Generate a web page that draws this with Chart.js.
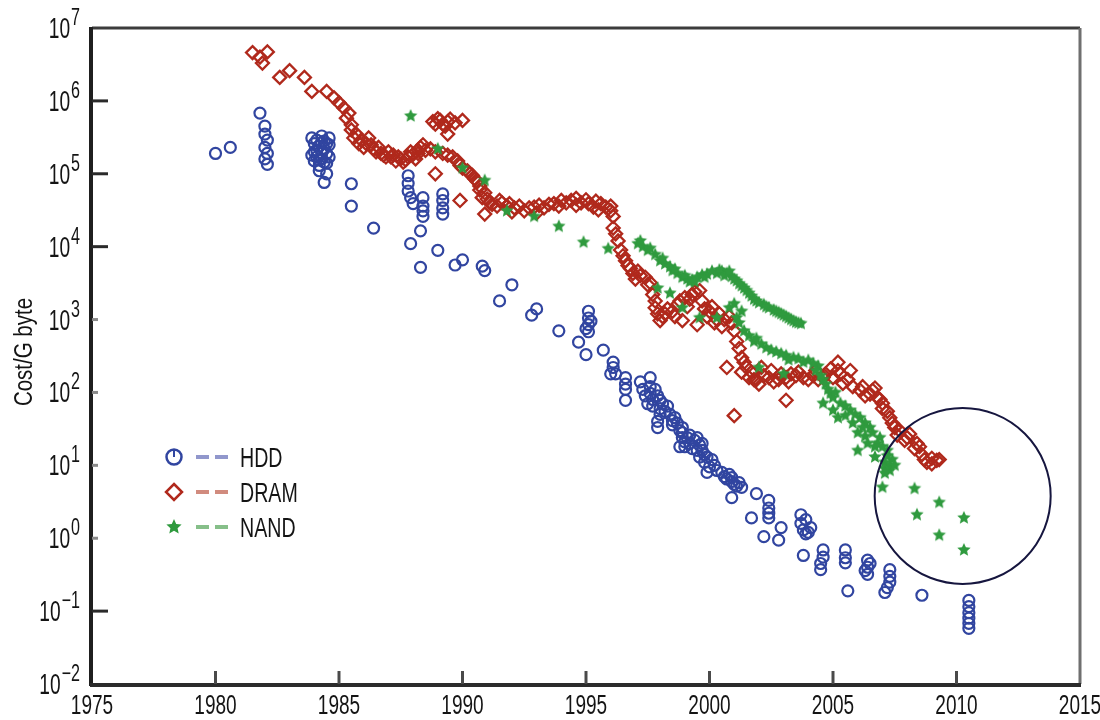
<!DOCTYPE html>
<html>
<head>
<meta charset="utf-8">
<script src="https://cdn.jsdelivr.net/npm/chart.js@4.4.1/dist/chart.umd.min.js"></script>
<style>
  html, body { margin: 0; background: #fff; }
  #wrap { width: 1100px; height: 720px; }
</style>
</head>
<body>
<div id="wrap"><canvas id="myChart"></canvas></div>
<script>
'use strict'

// tick labels
const xTicks = [1975, 1980, 1985, 1990, 1995, 2000, 2005, 2010, 2015]
const yExponents = [7, 6, 5, 4, 3, 2, 1, 0, -1, -2]
const seriesNames = ['HDD', 'DRAM', 'NAND']
const yTitle = 'Cost/G byte'

// HDD ($ per GB)
const hddYear = [1980.0, 1980.6, 1981.8, 1982.0, 1982.0, 1982.1, 1982.0, 1982.1, 1982.0, 1982.1,
  1983.9, 1984.0, 1984.1, 1983.9, 1984.0, 1984.2, 1984.3, 1984.4, 1984.4, 1984.5, 1984.3, 1984.5, 1984.6, 1984.6, 1984.6, 1984.2, 1984.5, 1984.4,
  1984.1, 1984.2, 1984.3, 1984.1, 1984.4, 1984.2, 1984.5, 1984.0, 1984.3,
  1985.5, 1985.5, 1986.4,
  1987.8, 1987.8, 1987.8, 1987.9, 1988.0,
  1988.4, 1988.4, 1988.4, 1988.4, 1988.3,
  1989.2, 1989.2, 1989.2, 1989.2,
  1987.9, 1989.0, 1988.3, 1989.7, 1990.0,
  1990.8, 1990.9, 1992.0, 1991.5, 1993.0, 1992.8, 1993.9,
  1995.1, 1995.1, 1995.1, 1995.1, 1995.2, 1995.0,
  1994.7, 1995.0, 1995.7,
  1996.1, 1996.1, 1996.2, 1996.0,
  1996.6, 1996.6, 1996.6, 1996.6,
  1997.6, 1997.6, 1997.6, 1997.7, 1997.7,
  1997.2, 1997.3, 1997.4, 1997.5, 1997.8, 1997.9, 1998.1, 1998.2, 1998.3, 1998.4, 1998.5, 1998.6, 1998.7, 1998.8,
  1998.0, 1998.0, 1998.0, 1997.9, 1997.9, 1998.5,
  1998.9, 1998.9, 1998.9, 1999.0, 1999.0, 1998.8,
  1999.1, 1999.2, 1999.3, 1999.5, 1999.5, 1999.7, 1999.9, 2000.1, 2000.2, 2000.3, 2000.5, 2000.6, 2000.7, 2000.8, 2001.2, 2001.3,
  1999.2, 1999.4, 1999.6, 1999.7, 1999.8, 1999.6, 1999.8, 2000.0, 1999.9,
  2000.9, 2000.9, 2001.0, 2001.1, 2000.9,
  2001.9, 2001.7,
  2002.4, 2002.4, 2002.4, 2002.4, 2002.9, 2002.2, 2002.8,
  2003.7, 2003.7, 2003.8, 2004.0, 2003.9, 2004.1, 2003.9, 2003.8,
  2004.6, 2004.6, 2004.5, 2004.5,
  2005.5, 2005.5, 2005.5,
  2006.4, 2006.4, 2006.4, 2006.5, 2006.3, 2005.6,
  2007.3, 2007.3, 2007.3, 2007.2, 2007.1,
  2008.6,
  2010.5, 2010.5, 2010.5, 2010.5, 2010.5, 2010.5]
const hddCost = [1.9e5, 2.3e5, 6.8e5, 4.5e5, 3.5e5, 2.9e5, 2.3e5, 1.9e5, 1.6e5, 1.35e5,
  3.1e5, 2.6e5, 2.1e5, 1.8e5, 1.5e5, 1.3e5, 3.3e5, 2.8e5, 2.2e5, 1.9e5, 1.6e5, 1.4e5, 3.1e5, 2.5e5, 1.7e5, 1.1e5, 1.0e5, 7.6e4,
  2.9e5, 2.4e5, 1.9e5, 1.7e5, 1.45e5, 1.55e5, 2.6e5, 2.0e5, 2.7e5,
  7.3e4, 3.6e4, 1.8e4,
  9.4e4, 7.4e4, 5.8e4, 4.7e4, 3.9e4,
  4.7e4, 3.6e4, 3.1e4, 2.6e4, 1.65e4,
  5.3e4, 4.3e4, 3.4e4, 2.8e4,
  1.1e4, 8.9e3, 5.2e3, 5.6e3, 6.6e3,
  5.4e3, 4.7e3, 3.0e3, 1.8e3, 1.4e3, 1.15e3, 7.0e2,
  1.3e3, 1.05e3, 8.5e2, 6.8e2, 9.5e2, 7.5e2,
  4.9e2, 3.3e2, 3.8e2,
  2.6e2, 2.2e2, 1.8e2, 1.8e2,
  1.6e2, 1.3e2, 1.1e2, 7.8e1,
  1.6e2, 1.2e2, 9.7e1, 8.0e1, 6.5e1,
  1.4e2, 1.1e2, 9.0e1, 7.0e1, 1.1e2, 9.0e1, 7.0e1, 5.5e1, 6.5e1, 5.0e1, 3.6e1, 4.5e1, 3.8e1, 3.0e1,
  7.8e1, 6.0e1, 5.0e1, 4.0e1, 3.3e1, 4.1e1,
  3.3e1, 2.8e1, 2.4e1, 2.1e1, 1.8e1, 1.8e1,
  2.4e1, 2.0e1, 1.7e1, 1.6e1, 2.4e1, 2.0e1, 1.3e1, 1.2e1, 1.0e1, 8.5, 8.0, 7.0, 6.5, 7.5, 5.8, 5.0,
  2.6e1, 2.2e1, 1.9e1, 1.6e1, 1.4e1, 1.3e1, 1.1e1, 9.5, 8.0,
  6.8, 6.0, 5.5, 5.2, 3.6,
  4.1, 1.9,
  3.3, 2.6, 2.2, 1.9, 1.4, 1.05, 0.94,
  2.1, 1.6, 1.3, 1.2, 1.8, 1.4, 1.15, 0.58,
  0.69, 0.55, 0.45, 0.37,
  0.69, 0.54, 0.46,
  0.50, 0.40, 0.32, 0.45, 0.36, 0.19,
  0.37, 0.30, 0.25, 0.21, 0.18,
  0.165,
  0.14, 0.115, 0.095, 0.08, 0.068, 0.058]

// DRAM
const dramYear = [1981.5, 1981.8, 1982.1, 1981.9, 1982.6, 1983.0, 1983.6, 1983.9, 1984.5, 1984.8, 1985.0, 1985.2, 1985.3, 1985.4, 1985.5, 1985.5, 1985.6, 1985.7, 1985.8, 1985.9,
  1986.0, 1986.1, 1986.2, 1986.3, 1986.4, 1986.5, 1986.6, 1986.7, 1986.8, 1986.9, 1987.0, 1987.1, 1987.2, 1987.3, 1987.4, 1987.5, 1987.6, 1987.7, 1987.8, 1987.9,
  1988.0, 1988.1, 1988.2, 1988.2, 1988.3, 1988.4, 1988.5,
  1988.8, 1988.9, 1989.0, 1989.1, 1989.2, 1989.3, 1989.4, 1989.5, 1989.7, 1990.0, 1989.4,
  1988.7, 1988.9, 1989.2, 1989.4, 1989.6, 1989.8, 1989.9, 1990.0, 1990.2, 1990.3, 1990.4, 1990.5, 1990.6, 1990.7, 1990.7, 1990.8, 1990.9, 1991.0, 1991.1,
  1988.9, 1989.9,
  1990.9, 1991.2, 1991.4, 1991.5, 1991.6, 1991.8, 1991.9, 1992.0, 1992.1, 1992.3, 1992.5, 1992.7, 1992.9, 1993.0, 1993.1, 1993.3, 1993.5, 1993.7, 1993.9, 1994.0, 1994.2, 1994.4, 1994.6, 1994.6, 1994.8, 1995.0, 1995.1, 1995.3, 1995.4, 1995.5, 1995.6, 1995.8, 1996.0, 1996.0, 1996.1,
  1996.1, 1996.2, 1996.3, 1996.4, 1996.5, 1996.6, 1996.7, 1996.8, 1996.9, 1997.0, 1997.1, 1997.2, 1997.4, 1997.5, 1997.6, 1997.7, 1997.8, 1997.8, 1997.9, 1998.0, 1998.1, 1998.2, 1998.3, 1998.5, 1998.6, 1998.7, 1998.8, 1999.0, 1999.1, 1999.2, 1999.3, 1999.4, 1999.6, 1999.7, 1999.8, 1999.9, 2000.0, 2000.1, 2000.2, 2000.3, 2000.4, 2000.5, 2000.6, 2000.8, 2000.9, 1998.9, 1999.5,
  2001.0, 2001.1, 2001.2, 2001.3, 2001.3, 2001.4, 2001.5, 2000.7, 2001.6, 2001.7, 2001.8, 2001.9, 2002.0, 2002.1, 2002.2, 2002.4, 2002.5, 2002.6, 2002.8, 2002.9, 2003.1, 2003.2, 2003.3, 2003.5, 2003.6, 2003.8, 2004.0, 2004.2, 2004.3, 2004.4, 2004.6, 2004.7, 2004.9, 2005.0, 2005.2, 2005.2, 2005.3, 2005.4, 2005.6, 2005.7, 2005.8,
  2006.1, 2006.2, 2006.3, 2006.5, 2006.6, 2006.7, 2006.8, 2006.9, 2007.0, 2007.0, 2007.2, 2007.3, 2007.4, 2007.5, 2007.6, 2007.7, 2007.9, 2008.0, 2008.1, 2008.3, 2008.4, 2008.5, 2008.6, 2008.7, 2008.8, 2009.0, 2009.0, 2009.2, 2009.3,
  2001.0, 2003.1]
const dramCost = [4.6e6, 4.0e6, 4.7e6, 3.3e6, 2.1e6, 2.6e6, 2.1e6, 1.35e6, 1.35e6, 1.1e6, 9.4e5, 8.0e5, 5.8e5, 6.8e5, 4.7e5, 4.0e5, 3.1e5, 3.5e5, 2.6e5, 2.9e5,
  2.3e5, 2.6e5, 3.1e5, 2.5e5, 2.2e5, 2.0e5, 2.3e5, 1.9e5, 1.8e5, 1.7e5, 2.0e5, 1.7e5, 1.8e5, 1.5e5, 1.7e5, 1.6e5, 1.45e5, 1.55e5, 1.7e5, 2.0e5,
  1.85e5, 1.6e5, 1.9e5, 2.1e5, 2.3e5, 2.5e5, 2.1e5,
  5.2e5, 4.8e5, 5.7e5, 5.4e5, 4.8e5, 4.5e5, 5.2e5, 5.6e5, 5.0e5, 5.4e5, 3.5e5,
  2.2e5, 2.0e5, 1.9e5, 1.8e5, 1.7e5, 1.5e5, 1.3e5, 1.2e5, 1.1e5, 1.0e5, 9.5e4, 8.5e4, 7.8e4, 6.8e4, 6.0e4, 4.7e4, 5.5e4, 4.5e4, 4.0e4,
  1.0e5, 4.3e4,
  2.8e4, 3.8e4, 3.6e4, 4.3e4, 4.0e4, 3.6e4, 3.9e4, 3.0e4, 3.4e4, 3.6e4, 3.1e4, 3.4e4, 3.5e4, 2.9e4, 3.7e4, 3.4e4, 3.8e4, 3.9e4, 3.6e4, 4.3e4, 4.0e4, 4.3e4, 4.6e4, 3.7e4, 4.0e4, 4.4e4, 3.9e4, 3.5e4, 4.2e4, 3.2e4, 3.9e4, 3.5e4, 3.6e4, 3.1e4, 2.6e4,
  1.8e4, 1.5e4, 1.2e4, 9.0e3, 7.5e3, 6.4e3, 5.5e3, 5.0e3, 4.3e3, 3.6e3, 4.6e3, 4.0e3, 3.8e3, 3.0e3, 3.2e3, 2.2e3, 1.8e3, 1.45e3, 1.2e3, 9.7e2, 1.1e3, 1.2e3, 1.4e3, 1.3e3, 1.1e3, 1.6e3, 1.8e3, 2.0e3, 1.5e3, 1.9e3, 2.2e3, 2.4e3, 2.5e3, 1.8e3, 1.4e3, 1.1e3, 1.3e3, 1.5e3, 9.0e2, 1.0e3, 1.2e3, 8.0e2, 1.0e3, 1.1e3, 9.0e2, 9.7e2, 8.5e2,
  7.0e2, 5.0e2, 4.0e2, 3.0e2, 1.9e2, 2.6e2, 2.2e2, 2.2e2, 1.6e2, 1.9e2, 1.5e2, 1.5e2, 1.3e2, 2.2e2, 1.7e2, 1.6e2, 2.0e2, 1.4e2, 1.5e2, 1.8e2, 1.6e2, 1.4e2, 1.8e2, 1.7e2, 1.9e2, 1.6e2, 1.5e2, 1.7e2, 2.0e2, 1.5e2, 1.6e2, 1.8e2, 2.1e2, 1.6e2, 2.0e2, 2.6e2, 1.8e2, 1.33e2, 1.5e2, 2.0e2, 1.2e2,
  1.07e2, 1.2e2, 9.0e1, 9.5e1, 1.07e2, 1.15e2, 8.5e1, 8.0e1, 7.1e1, 6.0e1, 5.5e1, 4.5e1, 3.8e1, 3.3e1, 2.6e1, 3.0e1, 2.2e1, 2.4e1, 2.7e1, 1.7e1, 2.0e1, 1.8e1, 1.4e1, 1.2e1, 1.1e1, 1.05e1, 1.25e1, 1.17e1, 1.2e1,
  4.8e1, 7.8e1]

// NAND
const nandYear = [1987.9, 1989.0, 1990.0, 1990.9, 1991.8, 1992.9, 1993.9, 1994.9, 1995.9,
  1997.1, 1997.3, 1997.5, 1997.8, 1998.0, 1998.2, 1998.5, 1998.7, 1998.9, 1999.1, 1999.3, 1999.5, 1999.7, 1999.9, 2000.3, 2000.5, 2000.7, 2000.9, 2001.1, 2001.3, 2001.5, 2001.7, 2001.9, 2002.2, 2002.4, 2002.7, 2002.9, 2003.1, 2003.3, 2003.5, 2003.7,
  1997.2, 1997.6, 1998.1, 1998.4, 1998.6, 1999.0, 1999.2, 1999.4, 1999.8, 2000.1, 2000.4, 2000.6, 2000.8, 2001.0, 2001.2, 2001.4, 2001.6, 2001.8, 2002.0, 2002.3, 2002.6, 2002.8, 2003.0, 2003.2, 2003.4, 2003.6,
  1997.9, 1998.4, 1998.9, 1999.6, 2000.3, 2000.8, 2001.0,
  2001.1, 2001.4, 2001.8, 2002.3, 2002.9, 2003.4, 2004.0, 2004.4, 2004.6, 2004.9, 2005.3, 2005.7, 2006.1, 2006.5, 2006.9, 2007.2, 2007.4, 2007.3,
  2001.2, 2001.3, 2001.6, 2001.9, 2002.1, 2002.5, 2002.7, 2003.1, 2003.2, 2003.6, 2003.8, 2004.2, 2004.3, 2004.5, 2004.7, 2004.8, 2005.0, 2005.1, 2005.5, 2005.5, 2005.9, 2005.8, 2006.0, 2006.3, 2006.3, 2006.6, 2006.7, 2006.8, 2007.0, 2007.1, 2007.2, 2007.3, 2007.5, 2007.1,
  2002.0, 2003.0, 2004.6, 2005.0, 2005.2, 2006.2, 2006.4, 2006.7, 2007.1, 2006.0,
  2007.0, 2008.3, 2009.3, 2008.4, 2010.3, 2009.3, 2010.3]
const nandCost = [6.2e5, 2.2e5, 1.2e5, 8.1e4, 3.1e4, 2.6e4, 1.9e4, 1.15e4, 9.4e3,
  1.1e4, 1.0e4, 8.9e3, 7.8e3, 6.4e3, 5.8e3, 4.7e3, 4.3e3, 3.8e3, 3.6e3, 3.5e3, 3.8e3, 4.1e3, 4.2e3, 4.3e3, 4.6e3, 4.3e3, 3.9e3, 3.4e3, 2.9e3, 2.5e3, 2.1e3, 1.8e3, 1.6e3, 1.45e3, 1.3e3, 1.2e3, 1.1e3, 1.0e3, 9.2e2, 8.8e2,
  1.2e4, 9.5e3, 6.9e3, 5.3e3, 4.9e3, 4.0e3, 3.3e3, 3.3e3, 3.8e3, 4.6e3, 4.8e3, 4.0e3, 4.6e3, 3.6e3, 3.1e3, 2.7e3, 2.3e3, 1.9e3, 1.7e3, 1.5e3, 1.35e3, 1.25e3, 1.15e3, 1.05e3, 9.6e2, 9.0e2,
  2.7e3, 2.3e3, 1.45e3, 1.06e3, 1.06e3, 1.45e3, 1.65e3,
  1.06e3, 7.0e2, 5.0e2, 4.1e2, 3.4e2, 3.0e2, 2.75e2, 2.3e2, 1.5e2, 9.7e1, 7.1e1, 5.7e1, 4.5e1, 3.3e1, 2.4e1, 1.6e1, 1.2e1, 8.5,
  9.0e2, 1.3e3, 6.0e2, 5.5e2, 4.6e2, 3.8e2, 3.6e2, 3.2e2, 2.8e2, 2.9e2, 2.6e2, 2.5e2, 2.0e2, 1.7e2, 1.3e2, 1.1e2, 8.5e1, 1.0e2, 6.5e1, 4.8e1, 5.0e1, 3.8e1, 2.8e1, 3.8e1, 2.5e1, 2.8e1, 1.8e1, 2.0e1, 1.8e1, 1.1e1, 1.35e1, 1.0e1, 1.0e1, 9.0,
  2.2e2, 1.8e2, 7.1e1, 5.7e1, 4.5e1, 3.3e1, 2.0e1, 1.3e1, 7.8, 1.6e1,
  5.0, 4.8, 3.1, 2.1, 1.9, 1.1, 0.69]

// the hand-drawn ring round the newest NAND points
const ringYear = 2010.25
const ringCost = 3.8

const hddColor = '#3145a0'
const dramColor = '#b0291c'
const nandColor = '#2f9a3e'
const FONT = '"Liberation Sans", Arial, sans-serif'

const toPoints = (xs, ys) => xs.map((x, i) => ({ x: x, y: ys[i] }))

function makeStar (r, color) {
  const c = document.createElement('canvas')
  const s = Math.ceil(r * 2 + 2)
  c.width = s
  c.height = s
  const g = c.getContext('2d')
  g.fillStyle = color
  g.beginPath()
  for (let i = 0; i < 10; i++) {
    const rr = i % 2 ? r * 0.47 : r
    const a = -Math.PI / 2 + i * Math.PI / 5
    g.lineTo(s / 2 + rr * Math.cos(a), s / 2 + rr * Math.sin(a))
  }
  g.closePath()
  g.fill()
  return c
}
const starImg = makeStar(7, nandColor)
const starLegend = makeStar(8, nandColor)

// narrow text, like the condensed face of the original
function narrowText (ctx, str, x, y, size, align, sx) {
  ctx.save()
  ctx.translate(x, y)
  ctx.scale(sx, 1)
  ctx.font = size + 'px ' + FONT
  ctx.textAlign = align
  ctx.fillText(str, 0, 0)
  ctx.restore()
}
function narrowWidth (ctx, str, size, sx) {
  ctx.save()
  ctx.font = size + 'px ' + FONT
  const w = ctx.measureText(str).width * sx
  ctx.restore()
  return w
}

const framePlugin = {
  id: 'frame',
  afterDraw (chart) {
    const ctx = chart.ctx
    const { left, right, top, bottom } = chart.chartArea
    const xs = chart.scales.x
    const ys = chart.scales.y

    ctx.save()
    // frame
    ctx.lineCap = 'butt'
    ctx.lineWidth = 3
    ctx.strokeStyle = '#3c3c3c'
    ctx.beginPath(); ctx.moveTo(left, top); ctx.lineTo(right, top); ctx.stroke()
    ctx.strokeStyle = '#6f6f6f'
    ctx.beginPath(); ctx.moveTo(right, top); ctx.lineTo(right, bottom); ctx.stroke()
    ctx.lineWidth = 4
    ctx.strokeStyle = '#1f1f1f'
    ctx.beginPath(); ctx.moveTo(left - 1, top - 1); ctx.lineTo(left - 1, bottom + 2); ctx.stroke()
    ctx.strokeStyle = '#2b2b2b'
    ctx.beginPath(); ctx.moveTo(left - 2, bottom + 1); ctx.lineTo(right + 1, bottom + 1); ctx.stroke()

    // inward ticks
    ctx.lineWidth = 3
    ctx.strokeStyle = '#4a4a4a'
    xTicks.forEach(v => {
      if (v === xTicks[0] || v === xTicks[xTicks.length - 1]) return
      const px = xs.getPixelForValue(v)
      ctx.beginPath(); ctx.moveTo(px, bottom); ctx.lineTo(px, bottom - 13); ctx.stroke()
    })
    yExponents.forEach(e => {
      if (e === 7 || e === -2) return
      const py = ys.getPixelForValue(Math.pow(10, e))
      const len = (e >= 4 || e === -1) ? 16 : 6
      ctx.strokeStyle = len > 6 ? '#2a2a2a' : '#8a8a8a'
      ctx.beginPath(); ctx.moveTo(left, py); ctx.lineTo(left + len, py); ctx.stroke()
    })

    // tick labels
    ctx.fillStyle = '#141414'
    ctx.textBaseline = 'alphabetic'
    xTicks.forEach(v => {
      narrowText(ctx, String(v), xs.getPixelForValue(v), 714, 28, 'center', 0.68)
    })
    yExponents.forEach(e => {
      const py = ys.getPixelForValue(Math.pow(10, e))
      const sup = e < 0 ? '\u2212' + (-e) : String(e)
      const supW = narrowWidth(ctx, sup, 23, 0.7)
      const xEnd = 80
      narrowText(ctx, sup, xEnd - supW, py - 3, 23, 'left', 0.7)
      narrowText(ctx, '10', xEnd - supW - 1, py + 10, 29, 'right', 0.66)
    })

    // axis title
    ctx.save()
    ctx.translate(25, 352)
    ctx.rotate(-Math.PI / 2)
    ctx.textBaseline = 'middle'
    narrowText(ctx, yTitle, 0, 0, 25, 'center', 0.82)
    ctx.restore()

    // legend
    const lx = 174
    const rows = [457, 492, 527]
    const dashCols = ['#9197cc', '#d18b7e', '#86bf89']
    rows.forEach((ry, i) => {
      ctx.lineWidth = 2.5
      if (i === 0) {
        ctx.strokeStyle = hddColor
        ctx.beginPath(); ctx.arc(lx, ry, 7.5, 0, Math.PI * 2); ctx.stroke()
        ctx.lineWidth = 2
        ctx.beginPath(); ctx.moveTo(lx, ry - 7); ctx.lineTo(lx, ry); ctx.stroke()
      } else if (i === 1) {
        ctx.strokeStyle = dramColor
        ctx.beginPath()
        ctx.moveTo(lx, ry - 8); ctx.lineTo(lx + 8, ry); ctx.lineTo(lx, ry + 8); ctx.lineTo(lx - 8, ry)
        ctx.closePath(); ctx.stroke()
      } else {
        ctx.drawImage(starLegend, lx - starLegend.width / 2, ry - starLegend.height / 2)
      }
      ctx.strokeStyle = dashCols[i]
      ctx.lineWidth = 4
      ctx.beginPath(); ctx.moveTo(196, ry); ctx.lineTo(209, ry); ctx.stroke()
      ctx.beginPath(); ctx.moveTo(215, ry); ctx.lineTo(228, ry); ctx.stroke()
      ctx.fillStyle = '#141414'
      narrowText(ctx, seriesNames[i], 240, ry + 10, 28, 'left', 0.7)
    })

    // ring
    ctx.strokeStyle = '#16163f'
    ctx.lineWidth = 2
    ctx.beginPath()
    ctx.arc(xs.getPixelForValue(ringYear), ys.getPixelForValue(ringCost), 88, 0, Math.PI * 2)
    ctx.stroke()
    ctx.restore()
  }
}

const myChart = new Chart(document.getElementById('myChart'), {
  type: 'scatter',
  data: {
    datasets: [{
      label: seriesNames[0],
      data: toPoints(hddYear, hddCost),
      pointStyle: 'circle',
      pointRadius: 5.5,
      borderWidth: 2.2,
      borderColor: hddColor,
      backgroundColor: 'rgba(0,0,0,0)',
      order: 3
    }, {
      label: seriesNames[1],
      data: toPoints(dramYear, dramCost),
      pointStyle: 'rectRot',
      pointRadius: 6.5,
      borderWidth: 2.3,
      borderColor: dramColor,
      backgroundColor: 'rgba(0,0,0,0)',
      order: 2
    }, {
      label: seriesNames[2],
      data: toPoints(nandYear, nandCost),
      pointStyle: starImg,
      pointRadius: 7,
      borderWidth: 0,
      borderColor: nandColor,
      backgroundColor: nandColor,
      order: 1
    }]
  },
  options: {
    responsive: true,
    maintainAspectRatio: false,
    devicePixelRatio: 1,
    animation: false,
    events: [],
    layout: { padding: { left: 92, right: 20, top: 28, bottom: 36 } },
    scales: {
      x: { type: 'linear', min: xTicks[0], max: xTicks[xTicks.length - 1], display: false },
      y: { type: 'logarithmic', min: 1e-2, max: 1e7, display: false }
    },
    plugins: {
      legend: { display: false },
      tooltip: { enabled: false }
    }
  },
  plugins: [framePlugin]
})
</script>
</body>
</html>
